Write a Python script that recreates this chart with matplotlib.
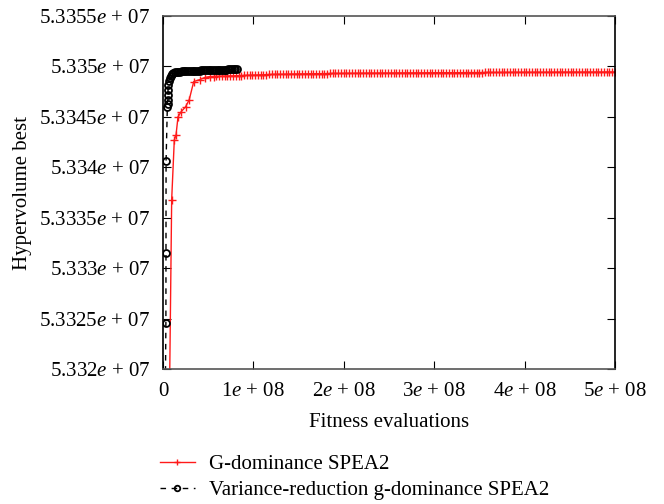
import numpy as np
import matplotlib
matplotlib.use("Agg")
import matplotlib.pyplot as plt
from matplotlib.ticker import FuncFormatter

plt.rcParams['font.family'] = ['Liberation Serif', 'DejaVu Serif']
plt.rcParams['mathtext.fontset'] = 'custom'
plt.rcParams['mathtext.rm'] = 'Liberation Serif'
plt.rcParams['mathtext.it'] = 'Liberation Serif:italic'

# G-dominance SPEA2 (red): rise then long plateau
red_rise_x = [5e6, 9.6e6, 1.25e7, 1.44e7, 1.66e7, 2.0e7, 2.5e7, 2.9e7, 3.4e7, 4.1e7, 4.6e7, 5.2e7]
red_rise_y = [5.3300e7, 5.33368e7, 5.33427e7, 5.33432e7, 5.33450e7, 5.33455e7, 5.33460e7,
              5.33467e7, 5.33485e7, 5.33487e7, 5.33489e7, 5.33490e7]
# plateau values above 5.3349e7
red_plateau_off = [0, 10, 20, 30, 40, 50, 60, 70, 80, 90, 100, 110, 120, 130, 140, 150, 160,
                   170, 180, 190, 200, 200, 210, 210, 220, 220, 230, 230, 240, 240, 250, 250,
                   260, 260, 270, 270, 280, 280, 280, 290, 290, 290, 300, 300, 300, 300, 310,
                   310, 310, 310, 320, 320, 320, 320, 330, 330, 330, 330, 330, 340, 340, 340,
                   340, 340, 350, 350, 350, 350, 350, 350, 360, 360, 360, 360, 360, 360, 370,
                   370, 370, 370, 370, 370, 370, 380, 380, 380, 380, 380, 380, 380, 390, 390,
                   390, 390, 390, 390, 390, 390, 400, 400, 400, 400, 400, 400, 400, 400, 410,
                   410, 410, 410, 410, 410, 410, 410, 420, 420, 420, 420, 420, 420, 420, 420,
                   420, 430, 430, 430, 430, 430, 430, 430, 430, 430, 440, 440, 440, 440, 440,
                   440, 440, 440, 440, 450, 450, 450, 450, 450]
red_plateau_x = np.linspace(5.6e7, 5.0e8, len(red_plateau_off))

# Variance-reduction g-dominance SPEA2 (black)
black_rise_x = [1e6, 3.2e6, 3.3e6, 3.4e6, 4.8e6, 5.0e6, 5.2e6, 5.4e6, 5.6e6, 6.0e6, 6.6e6,
                7.4e6, 8.4e6, 9.6e6, 1.1e7, 1.3e7]
black_rise_y = [5.3300e7, 5.33246e7, 5.33315e7, 5.33406e7, 5.33460e7, 5.33463e7, 5.33467e7,
                5.33472e7, 5.33477e7, 5.33482e7, 5.33486e7, 5.33489e7, 5.33491e7, 5.33492e7,
                5.33493e7, 5.33494e7]
# plateau values above 5.334e7
black_plateau_off = [9400, 9450, 9450, 9500, 9500, 9500, 9500, 9500, 9550, 9550, 9550, 9550,
                     9550, 9550, 9600, 9600, 9600, 9600, 9600, 9600, 9600, 9650, 9650, 9650,
                     9650, 9650, 9650, 9650, 9650, 9700, 9700, 9700, 9700, 9700, 9700]
black_plateau_x = np.linspace(1.5e7, 8.2e7, len(black_plateau_off))

red_x = np.concatenate([red_rise_x, red_plateau_x])
red_y = np.concatenate([red_rise_y, 5.3349e7 + np.array(red_plateau_off)])
black_x = np.concatenate([black_rise_x, black_plateau_x])
black_y = np.concatenate([black_rise_y, 5.3340e7 + np.array(black_plateau_off)])

x_ticks = [0, 1e8, 2e8, 3e8, 4e8, 5e8]
y_ticks = [5.332e7, 5.3325e7, 5.333e7, 5.3335e7, 5.334e7, 5.3345e7, 5.335e7, 5.3355e7]

fig = plt.figure(figsize=(6.64, 5.04), dpi=100)
ax = fig.add_axes([163 / 664, 1 - 369 / 504, 452 / 664, 353 / 504])

ax.plot(red_x, red_y, color='#ff1a1a', lw=1.0, marker='+', ms=6, mew=1.0,
        label='G-dominance SPEA2')
ax.plot(black_x, black_y, color='black', lw=1.0, ls=(0, (4, 4)), marker='o', ms=5,
        mfc='none', mew=1.3, label='Variance-reduction g-dominance SPEA2')

ax.set_xlim(0, 5e8)
ax.set_ylim(5.332e7, 5.3355e7)
ax.set_xticks(x_ticks)
ax.set_yticks(y_ticks)


def fmt_x(v, pos):
    if v == 0:
        return '0'
    return '{:g}$e$ + 08'.format(v / 1e8)


def fmt_y(v, pos):
    return '{:g}$e$ + 07'.format(v / 1e7)


ax.xaxis.set_major_formatter(FuncFormatter(fmt_x))
ax.yaxis.set_major_formatter(FuncFormatter(fmt_y))
ax.tick_params(direction='in', top=True, right=True, labelsize=15, length=6, pad=9)
for s in ax.spines.values():
    s.set_linewidth(1.2)
ax.spines['top'].set_color('#555555')
ax.spines['bottom'].set_color('#555555')

ax.set_xlabel('Fitness evaluations', fontsize=15, labelpad=9)
ax.set_ylabel('Hypervolume best', fontsize=15, labelpad=5)

fig.legend(loc='upper left', bbox_to_anchor=(141 / 664, 1 - 436 / 504), frameon=False,
           fontsize=15, handlelength=1.7, handletextpad=0.65, labelspacing=0.3,
           markerscale=0.8)

fig.savefig('out.png', dpi=100)
